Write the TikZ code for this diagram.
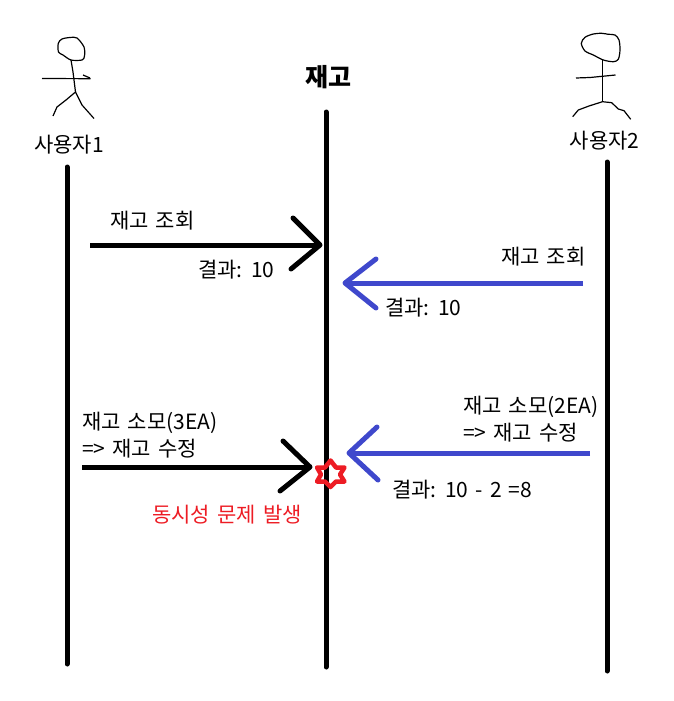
\documentclass[tikz,border=0pt]{standalone}
\usepackage{fontspec}
\usepackage{xcolor}
\setmainfont[WordSpace=1.5]{Noto Sans CJK KR}
\definecolor{paintblue}{HTML}{3F48CC}
\definecolor{paintred}{HTML}{ED1C24}
\tikzset{
  lifeline/.style={black,line width=5pt,line cap=round},
  blackmsg/.style={black,line width=5pt,line cap=round,line join=round},
  bluemsg/.style={paintblue,line width=5pt,line cap=round,line join=round},
  sketch/.style={black,line width=1.2pt,line join=round},
  lbl/.style={inner sep=0pt,font=\fontsize{21}{23}\selectfont,anchor=west},
}
\begin{document}
\begin{tikzpicture}[x=1pt,y=-1pt]
        \useasboundingbox (0,0) rectangle (673,701);

        %lifelines
        \coordinate (1) at (67,167);
        \coordinate (2) at (67,664);
        \coordinate (3) at (326,112);
        \coordinate (4) at (326,667);
        \coordinate (5) at (607,162);
        \coordinate (6) at (607,671);
        \draw[lifeline] (1)--(2) (3)--(4) (5)--(6);

        %user 1
        \draw[sketch] plot[smooth cycle,tension=.5] coordinates {(58.3,43.3)(62,39)(70,37.5)(77,38)(84,47)(84.5,56)(82,60)(71,60)(63,55)(58.5,52)};
        \draw[sketch] (71,60)--(73,72)--(74,80)--(75.5,92);
        \draw[sketch] (42,78.5)--(90.5,78.7) (83,75)--(90,78);
        \draw[sketch] (53,116)--(57,107)--(66,100)--(75.5,92)--(82,105)--(94,118.5);

        %user 2
        \draw[sketch] plot[smooth cycle,tension=.5] coordinates {(581.3,43.3)(585,37.3)(593.3,34)(601.7,33.3)(608.3,34.3)(615,35)(619,40)(620,50)(618.3,59.3)(613.3,61.7)(603.3,60)(593.3,55)(585,51)};
        \draw[sketch] (602.5,60)--(602.5,101.7);
        \draw[sketch] (576,78)--(590,77.5)--(615.5,75);
        \draw[sketch] (572.7,116.7)--(578.3,110)--(589,106)--(602.5,101.7)--(611.7,102.7)--(618.3,109)--(624,110.7)--(630.7,119.3);

        %titles
        \node[inner sep=0pt,font=\fontsize{25}{27}\selectfont\bfseries] (title) at (328.5,77){재고};
        \node[lbl,anchor=center] (user1) at (69,145){사용자1};
        \node[lbl,anchor=center] (user2) at (604.5,141){사용자2};

        %first query
        \coordinate (a) at (90,245);
        \coordinate (b) at (320,245);
        \coordinate (c) at (293,218);
        \coordinate (d) at (291,269);
        \draw[blackmsg,line cap=butt] (a)--(b);
        \draw[blackmsg] (c)--(b)--(d);
        \node[lbl] (q1) at (110,221){재고 조회};
        \node[lbl] (r1) at (198,270){결과: 10};

        \coordinate (e) at (583,283);
        \coordinate (f) at (345,283);
        \coordinate (g) at (376,259);
        \coordinate (h) at (376,308);
        \draw[bluemsg,line cap=butt] (e)--(f);
        \draw[bluemsg] (g)--(f)--(h);
        \node[lbl] (q2) at (501,257){재고 조회};
        \node[lbl] (r2) at (385,308){결과: 10};

        %update
        \coordinate (i) at (82,467);
        \coordinate (j) at (310,467);
        \coordinate (k) at (283,441);
        \coordinate (l) at (280,491);
        \draw[blackmsg,line cap=butt] (i)--(j);
        \draw[blackmsg] (k)--(j)--(l);
        \node[lbl] (u1) at (82,423){재고 소모(3EA)};
        \node[lbl] (v1) at (82,449){=> 재고 수정};

        \coordinate (m) at (590,453);
        \coordinate (n) at (349,453);
        \coordinate (o) at (377,427);
        \coordinate (p) at (378,480);
        \draw[bluemsg,line cap=butt] (m)--(n);
        \draw[bluemsg] (o)--(n)--(p);
        \node[lbl] (u2) at (463,407){재고 소모(2EA)};
        \node[lbl] (v2) at (463,433){=> 재고 수정};
        \node[lbl] (r3) at (392,490){결과: 10 - 2 =8};

        %star
        \draw[paintred,line width=4.5pt,line join=round] (330.5,460.5)--(336,467.5)--(344.5,467.5)--(340,474.5)--(344.5,481.5)--(336,481.5)--(330.5,487)--(325,481.5)--(317,481.5)--(321,474.5)--(317,467.5)--(325,467.5)--cycle;
        \node[lbl,anchor=center,text=paintred] (problem) at (227,515){동시성 문제 발생};
\end{tikzpicture}
\end{document}
